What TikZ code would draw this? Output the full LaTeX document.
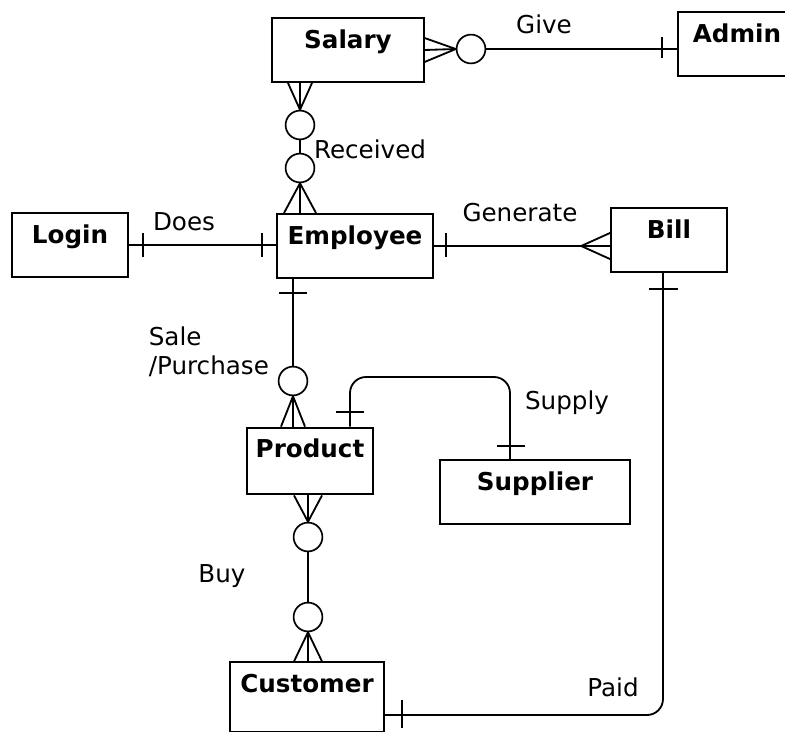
\documentclass[tikz,border=0pt]{standalone}
\usepackage{fontspec}
\setmainfont{DejaVu Sans}
\usepackage{tikz}
\usetikzlibrary{positioning}
\newcommand{\erfont}{\fontsize{17.5}{21}\selectfont}
\tikzstyle{entity} = [rectangle, draw=black, line width=1.4pt, inner sep=0pt, text height=0.75cm, text depth=0.85cm, font=\erfont\bfseries]
\tikzstyle{relation} = [circle, draw=black, line width=1.2pt, fill=white, inner sep=0pt, minimum size=0.72cm]
\tikzstyle{rellabel} = [inner sep=0pt, font=\erfont]
\tikzstyle{line} = [line width=1.3pt]

\begin{document}
\begin{tikzpicture}[x=0.025cm, y=-0.025cm, line width=1.2pt]
                \useasboundingbox (0,0) rectangle (785,732);
                % entities
                \node (salary) [entity, minimum width=3.78cm] at (348,50) {Salary};
                \node (admin) [entity, minimum width=2.95cm] at (737,44) {Admin};
                \node (login) [entity, minimum width=2.9cm] at (70,245) {Login};
                \node (emp) [entity, minimum width=3.9cm] at (355,246) {Employee};
                \node (bill) [entity, minimum width=2.88cm] at (669,240) {Bill};
                \node (product) [entity, minimum width=3.15cm, text depth=0.92cm] at (310,461) {Product};
                \node (supplier) [entity, minimum width=4.75cm] at (535,492) {Supplier};
                \node (customer) [entity, minimum width=3.85cm, text depth=0.98cm] at (307,697) {Customer};

                % relations
                \node (give) [relation] at (471,49) {};
                \node (rcva) [relation] at (300,125) {};
                \node (rcvb) [relation] at (300,168) {};
                \node (sale) [relation] at (293,381) {};
                \node (buya) [relation] at (308,537) {};
                \node (buyb) [relation] at (308,617) {};

                % labels
                \node (lgive) [rellabel] at (544,24) {Give};
                \node (lrcv) [rellabel] at (370,149) {Received};
                \node (ldoes) [rellabel] at (184,222) {Does};
                \node (lgen) [rellabel] at (520,213) {Generate};
                \node (lsale) [rellabel, align=left, anchor=west] at (148,352) {Sale\\/Purchase};
                \node (lsupply) [rellabel] at (567,403) {Supply};
                \node (lbuy) [rellabel] at (222,576) {Buy};
                \node (lpaid) [rellabel] at (613,687) {Paid};

                % Salary - Give - Admin
                \draw [line] (give.west) -- (salary.east);
                \draw [line] (give.west) -- ([yshift=0.3cm]salary.east);
                \draw [line] (give.west) -- ([yshift=-0.3cm]salary.east);
                \draw [line] (give.east) -- (give.east -| admin.west);
                \draw [line] (662,37) -- (662,58);

                % Salary - Received - Employee
                \coordinate (sfoot) at (salary.south -| rcva);
                \draw [line] (rcva.north) -- (sfoot);
                \draw [line] (rcva.north) -- ([xshift=-0.3cm]sfoot);
                \draw [line] (rcva.north) -- ([xshift=0.3cm]sfoot);
                \draw [line] (rcva) -- (rcvb);
                \coordinate (efoot) at (emp.north -| rcvb);
                \draw [line] (rcvb.south) -- (efoot);
                \draw [line] (rcvb.south) -- ([xshift=-0.4cm]efoot);
                \draw [line] (rcvb.south) -- ([xshift=0.4cm]efoot);

                % Login - Employee
                \draw [line] (login.east) -- (login.east -| emp.west);
                \draw [line] (143,233) -- (143,257);
                \draw [line] (262,233) -- (262,257);

                % Employee - Bill
                \coordinate (bfoot) at ([xshift=-0.73cm]bill.west |- emp.east);
                \draw [line] (emp.east) -- (emp.east -| bill.west);
                \draw [line] (bfoot) -- ([yshift=0.33cm]bill.west |- emp.east);
                \draw [line] (bfoot) -- ([yshift=-0.33cm]bill.west |- emp.east);
                \draw [line] (446,233) -- (446,257);

                % Employee - Sale/Purchase - Product
                \draw [line] (emp.south -| sale) -- (sale);
                \draw [line] (279,293) -- (307,293);
                \coordinate (pfoot) at (product.north -| sale);
                \draw [line] (sale.south) -- (pfoot);
                \draw [line] (sale.south) -- ([xshift=-0.3cm]pfoot);
                \draw [line] (sale.south) -- ([xshift=0.3cm]pfoot);

                % Product - Supplier
                \draw [line, rounded corners=0.4cm] ([xshift=1cm]product.north) |- (430,377) -| ([xshift=-0.625cm]supplier.north);
                \draw [line] (336,412) -- (364,412);
                \draw [line] (497,446) -- (525,446);

                % Product - Buy - Customer
                \coordinate (qfoot) at (product.south -| buya);
                \draw [line] (buya.north) -- (qfoot);
                \draw [line] (buya.north) -- ([xshift=-0.35cm]qfoot);
                \draw [line] (buya.north) -- ([xshift=0.35cm]qfoot);
                \draw [line] (buya) -- (buyb);
                \coordinate (cfoot) at (customer.north -| buyb);
                \draw [line] (buyb.south) -- (cfoot);
                \draw [line] (buyb.south) -- ([xshift=-0.35cm]cfoot);
                \draw [line] (buyb.south) -- ([xshift=0.35cm]cfoot);

                % Bill - Customer
                \draw [line, rounded corners=0.4cm] ([xshift=-0.15cm]bill.south) |- ([yshift=-0.45cm]customer.east);
                \draw [line] (649,289) -- (678,289);
                \draw [line] (402,700) -- (402,728);
\end{tikzpicture}
\end{document}
